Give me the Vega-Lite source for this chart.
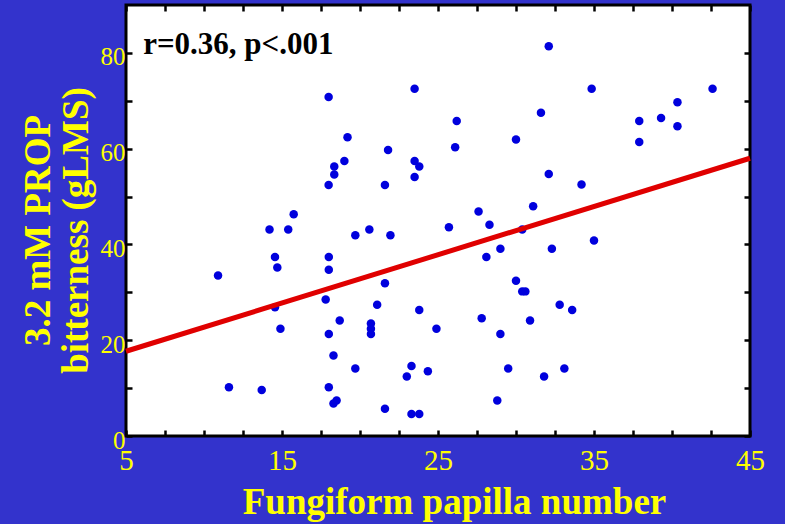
{
  "$schema": "https://vega.github.io/schema/vega-lite/v6.json",
  "width": 624,
  "height": 431,
  "autosize": "none",
  "padding": {"left": 126, "top": 5, "right": 35, "bottom": 88},
  "background": "#3333cc",
  "config": {
    "view": {"fill": "white", "stroke": "black", "strokeWidth": 3},
    "axis": {
      "grid": false,
      "domain": false,
      "ticks": true,
      "tickColor": "black",
      "tickSize": -6,
      "tickWidth": 2.5,
      "labelColor": "#ffff00",
      "labelFont": "Liberation Serif",
      "labelOverlap": false,
      "labelFlush": false,
      "labelBound": false,
      "titleColor": "#ffff00",
      "titleFont": "Liberation Serif",
      "titleFontWeight": "bold",
      "titleFontSize": 37
    }
  },
  "datasets": {
    "subjects": [
      {"papillae": 17.99, "bitterness": 70.8},
      {"papillae": 23.5, "bitterness": 72.5},
      {"papillae": 19.2, "bitterness": 62.4},
      {"papillae": 19.0, "bitterness": 57.4},
      {"papillae": 18.35, "bitterness": 56.3},
      {"papillae": 18.35, "bitterness": 54.6},
      {"papillae": 17.99, "bitterness": 52.4},
      {"papillae": 21.8, "bitterness": 59.7},
      {"papillae": 21.6, "bitterness": 52.4},
      {"papillae": 23.5, "bitterness": 57.4},
      {"papillae": 23.8, "bitterness": 56.3},
      {"papillae": 23.5, "bitterness": 54.1},
      {"papillae": 15.75, "bitterness": 46.3},
      {"papillae": 14.2, "bitterness": 43.1},
      {"papillae": 15.4, "bitterness": 43.1},
      {"papillae": 20.6, "bitterness": 43.1},
      {"papillae": 25.7, "bitterness": 43.6},
      {"papillae": 32.1, "bitterness": 81.4},
      {"papillae": 34.85, "bitterness": 72.5},
      {"papillae": 42.6, "bitterness": 72.5},
      {"papillae": 40.35, "bitterness": 69.7},
      {"papillae": 39.3, "bitterness": 66.4},
      {"papillae": 37.9, "bitterness": 65.8},
      {"papillae": 40.35, "bitterness": 64.7},
      {"papillae": 37.9, "bitterness": 61.4},
      {"papillae": 26.2, "bitterness": 65.8},
      {"papillae": 26.1, "bitterness": 60.3},
      {"papillae": 31.6, "bitterness": 67.5},
      {"papillae": 30.0, "bitterness": 61.9},
      {"papillae": 32.1, "bitterness": 54.7},
      {"papillae": 34.2, "bitterness": 52.5},
      {"papillae": 31.1, "bitterness": 48.0},
      {"papillae": 27.6, "bitterness": 46.9},
      {"papillae": 28.3, "bitterness": 44.1},
      {"papillae": 30.4, "bitterness": 43.1},
      {"papillae": 19.7, "bitterness": 41.9},
      {"papillae": 21.95, "bitterness": 41.9},
      {"papillae": 10.9, "bitterness": 33.5},
      {"papillae": 14.55, "bitterness": 37.4},
      {"papillae": 14.7, "bitterness": 35.2},
      {"papillae": 18.0, "bitterness": 37.4},
      {"papillae": 18.0, "bitterness": 34.7},
      {"papillae": 21.6, "bitterness": 31.9},
      {"papillae": 17.8, "bitterness": 28.5},
      {"papillae": 21.1, "bitterness": 27.4},
      {"papillae": 14.55, "bitterness": 26.9},
      {"papillae": 18.7, "bitterness": 24.1},
      {"papillae": 20.7, "bitterness": 23.5},
      {"papillae": 20.7, "bitterness": 22.4},
      {"papillae": 20.7, "bitterness": 21.3},
      {"papillae": 23.8, "bitterness": 26.3},
      {"papillae": 24.9, "bitterness": 22.4},
      {"papillae": 14.9, "bitterness": 22.4},
      {"papillae": 18.0, "bitterness": 21.3},
      {"papillae": 18.3, "bitterness": 16.8},
      {"papillae": 19.7, "bitterness": 14.1},
      {"papillae": 23.3, "bitterness": 14.6},
      {"papillae": 23.0, "bitterness": 12.4},
      {"papillae": 24.35, "bitterness": 13.5},
      {"papillae": 11.6, "bitterness": 10.2},
      {"papillae": 13.7, "bitterness": 9.6},
      {"papillae": 18.0, "bitterness": 10.2},
      {"papillae": 18.3, "bitterness": 6.8},
      {"papillae": 18.5, "bitterness": 7.4},
      {"papillae": 21.6, "bitterness": 5.7},
      {"papillae": 23.3, "bitterness": 4.6},
      {"papillae": 23.8, "bitterness": 4.6},
      {"papillae": 35.0, "bitterness": 40.8},
      {"papillae": 29.0, "bitterness": 39.1},
      {"papillae": 28.1, "bitterness": 37.4},
      {"papillae": 32.3, "bitterness": 39.1},
      {"papillae": 30.0, "bitterness": 32.4},
      {"papillae": 30.4, "bitterness": 30.2},
      {"papillae": 30.6, "bitterness": 30.2},
      {"papillae": 32.8, "bitterness": 27.4},
      {"papillae": 33.6, "bitterness": 26.3},
      {"papillae": 27.8, "bitterness": 24.6},
      {"papillae": 30.9, "bitterness": 24.1},
      {"papillae": 29.0, "bitterness": 21.3},
      {"papillae": 29.5, "bitterness": 14.1},
      {"papillae": 33.1, "bitterness": 14.1},
      {"papillae": 31.8, "bitterness": 12.4},
      {"papillae": 28.8, "bitterness": 7.4}
    ],
    "fit": [
      {"papillae": 5, "bitterness": 17.7},
      {"papillae": 45, "bitterness": 58.0}
    ],
    "stats": [
      {"papillae": 6.1, "bitterness": 79.8, "label": "r=0.36, p<.001"}
    ]
  },
  "layer": [
    {
      "data": {"name": "subjects"},
      "mark": {"type": "circle", "size": 72, "color": "#0000dd", "opacity": 1},
      "encoding": {
        "x": {
          "field": "papillae",
          "type": "quantitative",
          "scale": {"domain": [5, 45], "nice": false, "zero": false},
          "axis": {
            "orient": "bottom",
            "values": [5, 7.5, 10, 12.5, 15, 17.5, 20, 22.5, 25, 27.5, 30, 32.5, 35, 37.5, 40, 42.5, 45],
            "labelExpr": "datum.value % 10 == 5 ? datum.label : ''",
            "labelFontSize": 29,
            "labelPadding": 16,
            "title": "Fungiform papilla number",
            "titleX": 328,
            "titleY": 77,
            "titleBaseline": "alphabetic"
          }
        },
        "y": {
          "field": "bitterness",
          "type": "quantitative",
          "scale": {"domain": [0, 90], "nice": false},
          "axis": {
            "orient": "left",
            "values": [0, 10, 20, 30, 40, 50, 60, 70, 80],
            "labelExpr": "datum.value % 20 == 0 ? datum.label : ''",
            "labelFontSize": 25,
            "labelPadding": 7,
            "labelOffset": 4,
            "title": ["3.2 mM PROP", "bitterness (gLMS)"],
            "titleLineHeight": 38,
            "titleX": -77,
            "titleY": 225,
            "titleAngle": -90,
            "titleAlign": "center",
            "titleBaseline": "alphabetic"
          }
        }
      }
    },
    {
      "data": {"name": "fit"},
      "mark": {"type": "line", "color": "#e00000", "strokeWidth": 5},
      "encoding": {
        "x": {
          "field": "papillae",
          "type": "quantitative",
          "axis": {
            "orient": "top",
            "values": [5, 7.5, 10, 12.5, 15, 17.5, 20, 22.5, 25, 27.5, 30, 32.5, 35, 37.5, 40, 42.5, 45],
            "labels": false,
            "title": null
          }
        },
        "y": {
          "field": "bitterness",
          "type": "quantitative",
          "axis": {
            "orient": "right",
            "values": [0, 10, 20, 30, 40, 50, 60, 70, 80],
            "labels": false,
            "title": null
          }
        }
      }
    },
    {
      "data": {"name": "stats"},
      "mark": {
        "type": "text",
        "font": "Liberation Serif",
        "fontWeight": "bold",
        "fontSize": 31,
        "color": "black",
        "align": "left",
        "baseline": "alphabetic"
      },
      "encoding": {
        "x": {"field": "papillae", "type": "quantitative", "axis": null},
        "y": {"field": "bitterness", "type": "quantitative", "axis": null},
        "text": {"field": "label", "type": "nominal"}
      }
    }
  ],
  "resolve": {"axis": {"x": "independent", "y": "independent"}}
}
